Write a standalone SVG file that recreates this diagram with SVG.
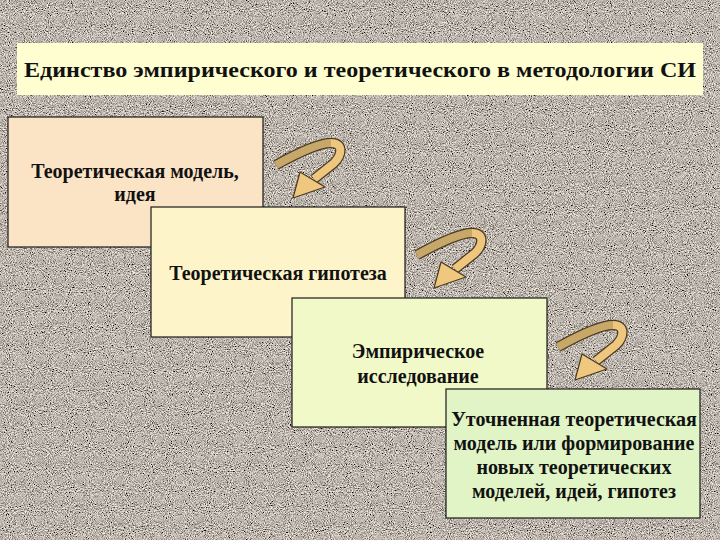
<svg xmlns="http://www.w3.org/2000/svg" width="720" height="540" viewBox="0 0 720 540">
<defs>
<filter id="granite" x="0" y="0" width="100%" height="100%" filterUnits="userSpaceOnUse">
<feTurbulence type="fractalNoise" baseFrequency="0.95" numOctaves="3" seed="7" result="t"/>
<feColorMatrix in="t" type="matrix" values="1.6 0 0 0 -0.3  1.55 0 0 0 -0.315  1.5 0 0 0 -0.33  0 0 0 0 1"/>
</filter>
<g id="arrow">
<path d="M0,0 C18,-10 42,-22 55,-22 C68,-22 66,-10 58,-2 L38,14" class="aout"/>
<path d="M0,0 C18,-10 42,-22 55,-22" class="adark"/>
<path d="M55,-22 C68,-22 66,-10 58,-2 L38,14" class="alight"/>
<polygon points="24,7 49,22 17,33" class="ahead"/>
</g>
</defs>
<style>
.box{stroke:#1a1a1a;stroke-width:1.2}
.t{font-family:"Liberation Serif","Times New Roman",serif;font-weight:bold;font-size:20px;fill:#111;text-anchor:middle}
.aout{fill:none;stroke:#4a3a22;stroke-width:10.5}
.adark{fill:none;stroke:#c8a868;stroke-width:8}
.alight{fill:none;stroke:#efc67e;stroke-width:8}
.ahead{fill:#f0c77f;stroke:#4a3a22;stroke-width:1.2;stroke-linejoin:round}
</style>
<rect x="0" y="0" width="720" height="540" fill="#8e847b"/>
<rect x="0" y="0" width="720" height="540" filter="url(#granite)"/>

<g id="title">
<rect x="17" y="43" width="686" height="52" fill="#fefed0"/>
<text x="360" y="77" class="t" font-size="23" textLength="672" lengthAdjust="spacingAndGlyphs">Единство эмпирического и теоретического в методологии СИ</text>
</g>

<g id="node1">
<rect x="8" y="117" width="255" height="130" class="box" fill="#fbe3c6"/>
<text x="135" y="178" class="t">Теоретическая модель,</text>
<text x="135" y="201" class="t">идея</text>
</g>

<g id="node2">
<rect x="151" y="207" width="254" height="130" class="box" fill="#fdf5c9"/>
<text x="278" y="280" class="t">Теоретическая гипотеза</text>
</g>

<g id="node3">
<rect x="292" y="298" width="255" height="129" class="box" fill="#f2f9c8"/>
<text x="418" y="358" class="t">Эмпирическое</text>
<text x="418" y="383" class="t">исследование</text>
</g>

<g id="node4">
<rect x="446" y="389" width="254" height="129" class="box" fill="#e1f4c6"/>
<text x="574" y="426" class="t">Уточненная теоретическая</text>
<text x="574" y="450" class="t">модель или формирование</text>
<text x="574" y="474" class="t">новых теоретических</text>
<text x="574" y="498" class="t">моделей, идей, гипотез</text>
</g>

<g id="connectors">
<use href="#arrow" transform="translate(276,165)"/>
<use href="#arrow" transform="translate(417,255)"/>
<use href="#arrow" transform="translate(558,347)"/>
</g>
</svg>
